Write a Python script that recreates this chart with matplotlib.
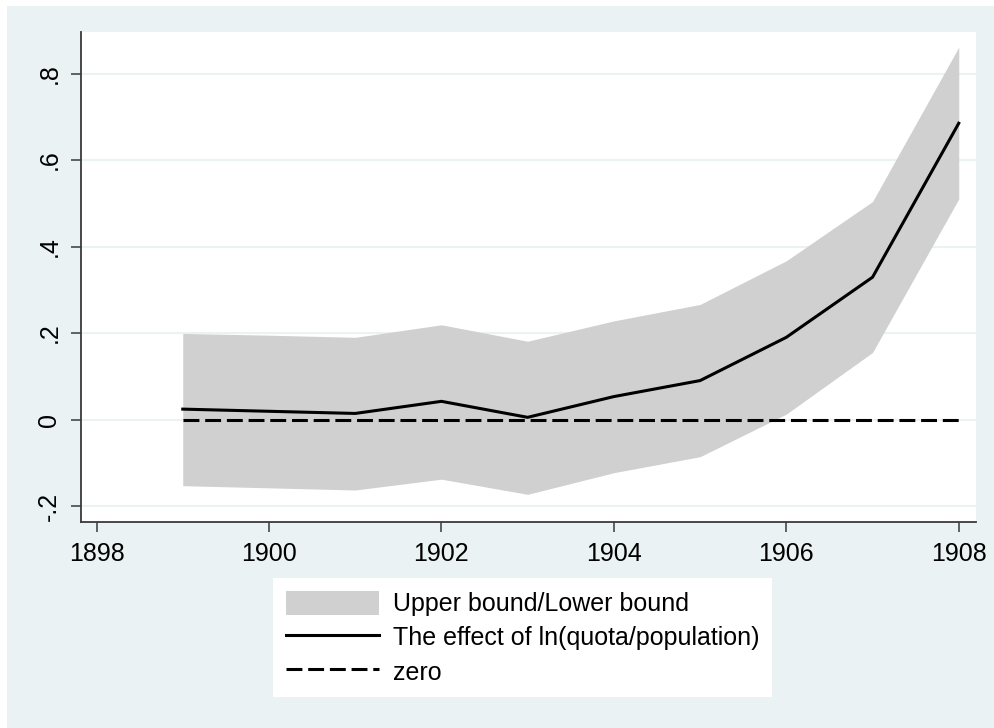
import matplotlib
matplotlib.use("Agg")
import matplotlib.pyplot as plt
from matplotlib.patches import Rectangle, Patch
from matplotlib.lines import Line2D

plt.rcParams['font.family'] = ['Liberation Sans', 'DejaVu Sans']

years = [1899, 1900, 1901, 1902, 1903, 1904, 1905, 1906, 1907, 1908]
effect = [0.024, 0.019, 0.014, 0.042, 0.005, 0.053, 0.090, 0.190, 0.329, 0.685]
upper = [0.199, 0.195, 0.190, 0.219, 0.181, 0.228, 0.266, 0.367, 0.504, 0.861]
lower = [-0.153, -0.158, -0.163, -0.138, -0.173, -0.123, -0.086, 0.0125, 0.155, 0.510]
zero = [0.0] * len(years)

xticks = [1898, 1900, 1902, 1904, 1906, 1908]
yticks = [-0.2, 0.0, 0.2, 0.4, 0.6, 0.8]
ytick_labels = ['-.2', '0', '.2', '.4', '.6', '.8']

bg = '#EAF2F3'
band = '#D0D0D0'
axis_col = '#3a3a3a'
dash = (0, (5.2, 1.9))

fig = plt.figure(figsize=(9.94, 7.28), dpi=100, facecolor='white')
fig.patches.append(Rectangle((7 / 994, 0), 1 - 7 / 994, 1 - 6 / 728,
                             transform=fig.transFigure, facecolor=bg,
                             edgecolor='none', zorder=-10))

ax = fig.add_axes([81 / 994, 1 - 522 / 728, (976 - 81) / 994, (522 - 32) / 728])
ax.set_facecolor('white')

ax.fill_between(years, lower, upper, color=band, linewidth=0, zorder=2,
                label='Upper bound/Lower bound')
ax.plot(years, effect, color='black', linewidth=2.2, zorder=3,
        label='The effect of ln(quota/population)')
ax.plot(years, zero, color='black', linewidth=2.2, linestyle=dash,
        zorder=3, label='zero')

ax.set_xlim(1897.82, 1908.2)
ax.set_ylim(-0.237, 0.896)
ax.set_xticks(xticks)
ax.set_xticklabels([str(x) for x in xticks])
ax.set_yticks(yticks)
ax.set_yticklabels(ytick_labels, rotation=90, va='center')

ax.grid(axis='y', color=bg, linewidth=1.5, zorder=1)
ax.grid(axis='x', visible=False)
ax.set_axisbelow(True)

for side in ['top', 'right']:
    ax.spines[side].set_visible(False)
for side in ['left', 'bottom']:
    ax.spines[side].set_color(axis_col)
    ax.spines[side].set_linewidth(1.3)

ax.tick_params(axis='both', direction='out', length=7.2, width=1.1,
               color=axis_col, labelsize=18, labelcolor='black', pad=7)

handles = [Patch(facecolor=band, edgecolor='none'),
           Line2D([], [], color='black', linewidth=2.2),
           Line2D([], [], color='black', linewidth=2.2, linestyle=dash)]
labels = ['Upper bound/Lower bound', 'The effect of ln(quota/population)', 'zero']
leg = fig.legend(handles, labels, loc='upper left',
                 bbox_to_anchor=(273 / 994, 1 - 578 / 728),
                 frameon=True, fancybox=False, fontsize=18, framealpha=1,
                 handlelength=3.75, handleheight=1.1, handletextpad=0.55,
                 labelspacing=0.35, borderpad=0.5, borderaxespad=0)
leg.get_frame().set_facecolor('white')
leg.get_frame().set_edgecolor('white')
leg.get_frame().set_linewidth(0)

fig.savefig('out.png', dpi=100, facecolor=fig.get_facecolor())
